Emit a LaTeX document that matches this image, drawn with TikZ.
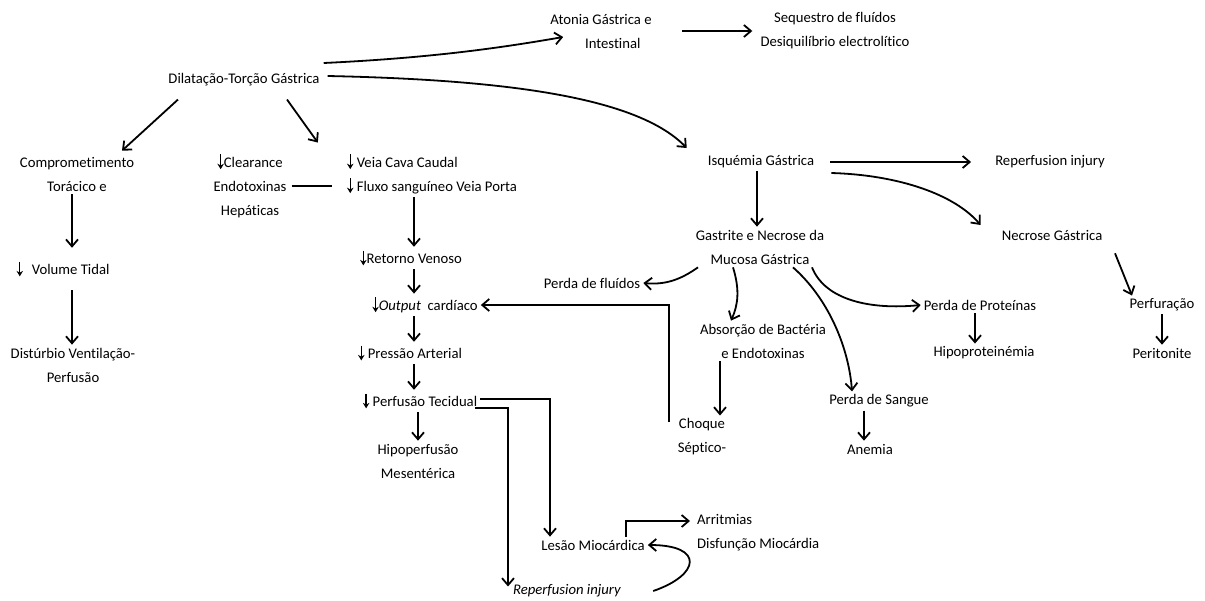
\documentclass[tikz,border=0pt]{standalone}
\usepackage{fontspec}
\setmainfont{Carlito}[Ligatures=NoCommon]
\usetikzlibrary{arrows.meta, calc}

\newcommand{\dn}{\tikz[baseline=0pt]\draw[line width=1.3pt,-{Stealth[length=5.5pt,width=6.5pt]}] (0,1.9ex) -- (0,-0.2ex);}

\begin{document}
\begin{tikzpicture}[
    x=1pt,y=1pt,
    term/.style={inner sep=3pt, align=center, font=\fontsize{14.7}{24}\selectfont},
    flow/.style={line width=1.8pt, -{Straight Barb[length=7pt,width=12pt]}},
    link/.style={line width=1.8pt}
]
    \useasboundingbox (0,0) rectangle (1205,-600);

    % --- Top ---
    \node[term] (dil) at (244,-80) {Dilatação-Torção Gástrica};
    \node[term] (aton) at (601,-31) {Atonia Gástrica e\\\hspace*{1.6em}Intestinal};
    \node[term] (seq) at (835,-31) {Sequestro de fluídos\\Desiquilíbrio electrolítico};

    % --- Left column ---
    \node[term] (comp) at (77,-174) {Comprometimento\\Torácico e};
    \node[term] (vol) at (63,-269) {\dn\hspace{0.6em}Volume Tidal};
    \node[term] (dist) at (73,-365) {Distúrbio Ventilação-\\Perfusão};

    % --- Circulation ---
    \node[term] (clr) at (250,-186) {\dn Clearance\\Endotoxinas\\Hepáticas};
    \node[term, align=left] (veia) at (432,-174) {\dn{} Veia Cava Caudal\\\dn{} Fluxo sanguíneo Veia Porta};
    \node[term] (ret) at (411,-258) {\dn Retorno Venoso};
    \node[term] (out) at (425,-305) {\dn\textit{Output}~ cardíaco};
    \node[term] (pres) at (410,-353) {\dn{} Pressão Arterial};
    \node[term] (perf) at (420,-401) {\dn{} Perfusão Tecidual};
    \node[term] (hipo) at (418,-461) {Hipoperfusão\\Mesentérica};
    \node[term] (lesao) at (593,-545) {Lesão Miocárdica};
    \node[term, align=left, anchor=west] (arrit) at (694,-533) {Arritmias\\Disfunção Miocárdia};
    \node[term] (rinj) at (567,-591) {\textit{Reperfusion injury}};

    % --- Ischaemia ---
    \node[term] (isq) at (761,-162) {Isquémia Gástrica};
    \node[term] (rep) at (1050,-162) {Reperfusion injury};
    \node[term] (nec) at (1052,-235) {Necrose Gástrica};
    \node[term] (perfu) at (1162,-305) {Perfuração};
    \node[term] (peri) at (1162,-353) {Peritonite};
    \node[term] (gas) at (760,-247) {Gastrite e Necrose da\\Mucosa Gástrica};
    \node[term] (pflu) at (592,-283) {Perda de fluídos};
    \node[term] (abs) at (763,-341) {Absorção de Bactéria\\e Endotoxinas};
    \node[term] (choq) at (702,-437) {Choque\\Séptico-};
    \node[term] (psan) at (879,-401) {Perda de Sangue};
    \node[term] (anem) at (870,-449) {Anemia};
    \node[term] (pprot) at (980,-305) {Perda de Proteínas};
    \node[term] (hprot) at (984,-353) {Hipoproteinémia};

    \coordinate (col) at (414,0);

    % --- From the top ---
    \draw[flow] ([shift={(1,17)}]dil.east) .. controls (430,-58) and (500,-48) .. ([shift={(16,-6)}]aton.west);
    \draw[flow] ([xshift=27]aton.east) -- ([xshift=-5]seq.west);
    \draw[flow] ([shift={(5,4)}]dil.east) .. controls (520,-80) and (640,-100) .. ([shift={(-18,14)}]isq.west);
    \draw[flow] ([shift={(-66,-10)}]dil.south) -- ([shift={(45,3)}]comp.north);
    \draw[flow] ([shift={(43,-10)}]dil.south) -- ([shift={(-26,8)}]veia.north west);

    % --- Left column ---
    \draw[flow] ([xshift=-5]comp.south) -- ([xshift=-5,yshift=10]comp.south |- vol.north);
    \draw[flow] ([xshift=9,yshift=-10]vol.south) -- ([xshift=9]vol.south |- dist.north);

    % --- Circulation ---
    \draw[link] ([xshift=2]clr.east) -- ([xshift=-12]clr.east -| veia.west);
    \draw[flow] (veia.south -| col) -- (ret.north -| col);
    \draw[flow] (ret.south -| col) -- (out.north -| col);
    \draw[flow] (out.south -| col) -- (pres.north -| col);
    \draw[flow] (pres.south -| col) -- (perf.north -| col);
    \draw[flow] (perf.south -| hipo.north) -- (hipo.north);
    \draw[flow] ([yshift=2]perf.east) -| ([xshift=-43]lesao.north);
    \draw[flow] ([shift={(-5,-7)}]perf.east) -| ([xshift=-59,yshift=-5]rinj.north);
    \draw[flow] ([xshift=33]lesao.north) |- ([shift={(-4,12)}]arrit.west);
    \draw[flow] ([xshift=29]rinj.east) .. controls (700,-575) and (705,-545) .. (lesao.east);

    % --- Ischaemia ---
    \draw[flow] ([xshift=13]isq.east) -- ([xshift=-21]rep.west);
    \draw[flow] ([shift={(14,-11)}]isq.east) .. controls (900,-175) and (955,-195) .. ([shift={(-18,10)}]nec.west);
    \draw[flow] ([shift={(63,-10)}]nec.south) -- ([xshift=-30]perfu.north);
    \draw[flow] (perfu.south) -- (peri.north);
    \draw[flow] ([xshift=-4]isq.south) -- ([xshift=-3]gas.north);
    \draw[flow] ([xshift=-62]gas.south) .. controls (680,-280) and (665,-285) .. (pflu.east);
    \draw[flow] ([xshift=-27]gas.south) .. controls (740,-290) and (738,-305) .. ([xshift=-32]abs.north);
    \draw[flow] ([xshift=33]gas.south) .. controls (830,-300) and (849,-350) .. ([xshift=-27]psan.north);
    \draw[flow] ([xshift=52]gas.south) .. controls (825,-300) and (870,-310) .. (pprot.west);
    \draw[flow] ([xshift=-5]pprot.south) -- ([xshift=-5]pprot.south |- hprot.north);
    \draw[flow] ([xshift=-43]abs.south) -- ([xshift=-43]abs.south |- choq.north);
    \draw[flow] ([xshift=-15]psan.south) -- ([xshift=-15]psan.south |- anem.north);
    \draw[flow] ([shift={(-6,-6)}]choq.north west) |- (out.east);

\end{tikzpicture}
\end{document}
